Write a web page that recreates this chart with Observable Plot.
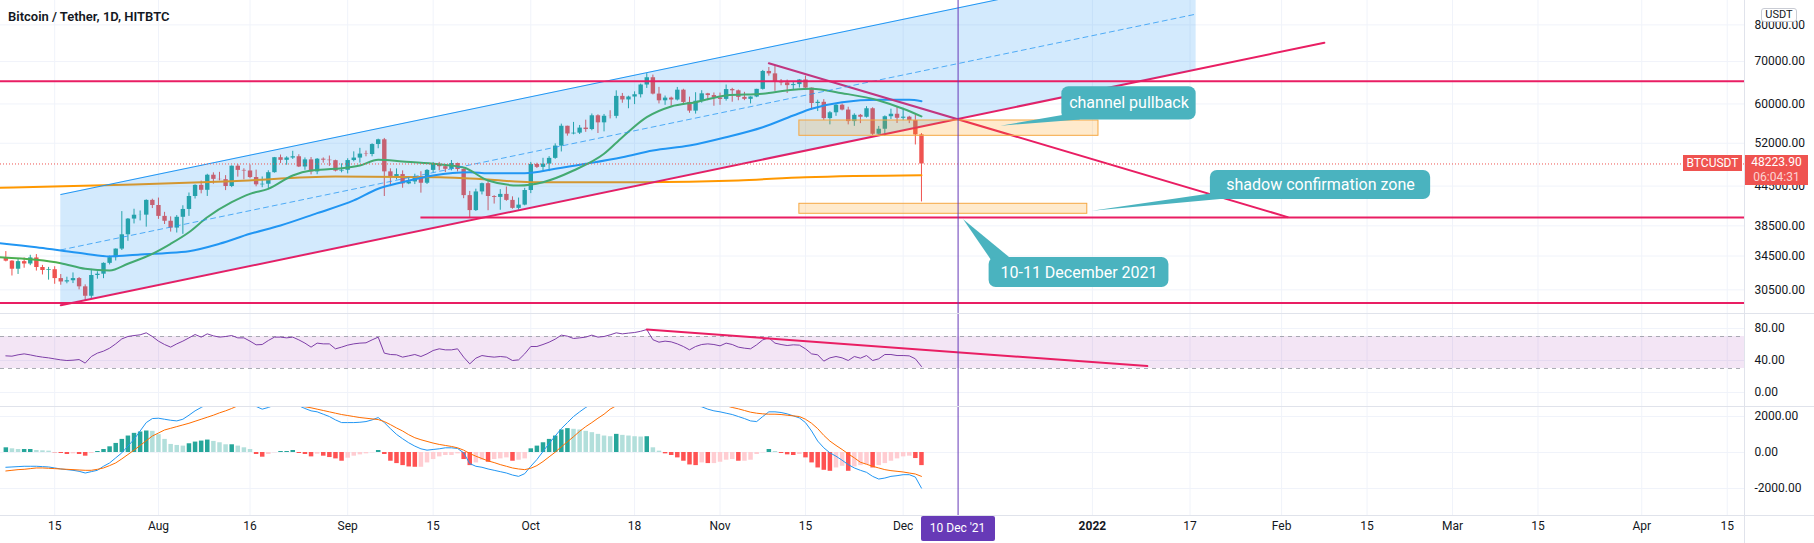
<!DOCTYPE html>
<html>
<head>
<meta charset="utf-8">
<script src="https://cdn.jsdelivr.net/npm/d3@7"></script>
<script src="https://cdn.jsdelivr.net/npm/@observablehq/plot@0.6"></script>
<style>
  html, body { margin:0; padding:0; background:#ffffff; }
  #chart { position:relative; width:1814px; height:543px; overflow:hidden; font-family: Roboto, "Noto Sans", sans-serif; color:#131722; background:#fff; }
  #chart svg { position:absolute; left:0; display:block; background:transparent; }
  .ov { position:absolute; box-sizing:border-box; white-space:nowrap; }
</style>
</head>
<body>
<div id="chart"></div>
<script>
// ---------------- DATA ----------------
const firstDay = "2021-07-07";
const lastDay = "2021-12-04";
const open = [34230,33860,32880,33800,33510,34260,33090,32730,32820,31780,31390,31530,31780,30840,29800,32140,32290,33590,34290,35380,37270,39460,40020,40030,42240,
41460,39850,39150,38190,39720,40870,42840,44610,43820,46290,45600,45550,44430,47830,47110,47010,45900,44700,44800,46720,49340,48870,49280,49510,47700,48950,46850,49070,48900,48810,46990,
47130,48830,49270,49990,49920,51760,52660,46860,46050,46400,44850,45170,46050,44960,47110,48130,47750,47300,48310,47260,42980,40700,43560,44890,42840,42700,43170,42240,41030,41520,
43790,48140,47630,48200,49220,51470,55320,53790,53950,54950,54660,57470,56010,57370,57350,61670,60880,61530,62040,64280,66000,62190,60690,61290,60860,63080,60330,58450,60590,62250,61860,
61320,61000,63220,62940,61450,61010,61530,63270,67530,66940,64880,64780,64140,64380,65470,63560,60100,60360,56880,58100,59720,58680,56270,57570,57160,58960,53730,54720,57270,57790,
56950,57180,56480,53600];
const high = [35060,33910,34100,34260,34590,34680,33340,33100,33180,32250,31940,32440,31900,31060,32860,32580,33650,34490,35400,40550,39540,40900,40640,42320,42420,
42600,40440,39780,39970,41420,43390,44700,45310,46450,46700,46780,46220,47890,48140,47390,48050,47160,46000,47050,49380,49820,49500,50500,49870,49300,49370,49190,49300,49640,48900,48250,
49150,50400,51050,50550,51900,52780,52920,47380,47370,47030,45990,46460,46880,47250,48490,48500,48150,48840,48380,47360,43640,44000,44980,45200,42970,43920,44350,42790,42600,44130,
48500,48360,49230,49530,51890,55750,55330,56100,55480,56560,57840,57680,57750,58530,62930,62330,61720,62700,64490,67000,66640,63730,61750,61500,63710,63290,61500,62500,62960,62360,62440,
62420,64270,63500,63120,62590,61560,63290,67790,68500,69000,65580,65460,64990,65550,66400,63560,60820,60950,58350,59850,60000,59290,57880,57750,59400,59170,55280,57440,58870,59250,
59050,57360,57600,53860];
const low = [33770,32080,32260,33000,33310,32660,32200,31600,31130,31020,31180,31210,30500,29280,29480,31710,31770,33400,33880,35200,36400,38770,39200,38320,41000,
39420,38690,37640,37510,37330,39850,42450,43260,42850,44800,45350,43770,44250,45970,45520,45700,44380,44230,43950,46640,48290,48000,49030,47600,47130,46350,46380,48370,47800,46850,46700,
46510,48600,48380,49500,49500,50970,42840,44410,45510,44150,44730,44740,43370,44750,46700,47040,46750,47030,46850,42500,39600,40570,43090,40680,41680,40750,42100,40900,40750,41410,
43290,47430,47090,46900,49050,50380,53360,53620,53680,54110,54420,53880,54200,56820,56850,60150,58960,59850,61320,63480,62000,60000,59700,59510,60650,59820,58000,57820,60170,60700,59500,
59700,60620,60380,60700,60720,60000,61380,63100,66380,62820,64100,62330,63000,63580,63400,58600,58380,56500,55600,57350,58500,55600,55300,55850,57000,53500,53610,53330,56700,55880,
56450,55850,51680,42000];
const close = [33860,32880,33800,33510,34260,33090,32730,32820,31780,31390,31530,31780,30840,29800,32140,32290,33590,34290,35380,37270,39460,40020,40030,42240,41460,
39850,39150,38190,39720,40870,42840,44610,43820,46290,45600,45550,44430,47830,47110,47010,45900,44700,44800,46720,49340,48870,49280,49510,47700,48950,46850,49070,48900,48810,46990,47130,
48830,49270,49990,49920,51760,52660,46860,46050,46400,44850,45170,46050,44960,47110,48130,47750,47300,48310,47260,42980,40700,43560,44890,42840,42700,43170,42240,41030,41520,43790,
48140,47630,48200,49220,51470,55320,53790,53950,54950,54660,57470,56010,57370,57350,61670,60880,61530,62040,64280,66000,62190,60690,61290,60860,63080,60330,58450,60590,62250,61860,61320,
61000,63220,62940,61450,61010,61530,63270,67530,66940,64880,64780,64140,64380,65470,63560,60100,60360,56880,58100,59720,58680,56270,57570,57160,58960,53730,54720,57270,57790,56950,
57180,56480,53600,48223.9];
const lastPrice = 48223.90;
const countdown = "06:04:31";

// moving averages (date, value)
const ma20Dates = ["2021-07-06","2021-07-12","2021-07-16","2021-07-20","2021-07-24","2021-07-27","2021-07-31","2021-08-03","2021-08-06","2021-08-09","2021-08-13","2021-08-16","2021-08-19","2021-08-23","2021-08-26","2021-08-30","2021-09-03","2021-09-06","2021-09-10","2021-09-15","2021-09-20","2021-09-24","2021-09-29","2021-10-03","2021-10-08","2021-10-13","2021-10-16","2021-10-20","2021-10-24","2021-10-28","2021-11-02","2021-11-08","2021-11-13","2021-11-16","2021-11-21","2021-11-27","2021-12-01","2021-12-04"];
const ma20Values = [34360,34030,33610,32930,32730,33540,34780,36070,37620,39730,41960,43260,44050,46240,47090,47380,47950,48960,48660,48250,47600,45410,44590,45130,47090,50040,53160,57180,59450,60390,61880,62270,63180,63410,62400,60770,58960,57330];
const ma50Dates = ["2021-07-06","2021-07-12","2021-07-16","2021-07-20","2021-07-24","2021-07-29","2021-08-02","2021-08-06","2021-08-11","2021-08-16","2021-08-21","2021-08-27","2021-09-02","2021-09-06","2021-09-10","2021-09-15","2021-09-21","2021-09-24","2021-09-30","2021-10-05","2021-10-10","2021-10-16","2021-10-21","2021-10-27","2021-11-02","2021-11-08","2021-11-13","2021-11-16","2021-11-21","2021-11-27","2021-12-02","2021-12-04"];
const ma50Values = [36150,35630,35200,34780,34440,34690,34860,35110,36070,37400,38550,40320,42230,44060,45130,46240,46800,46630,46630,47380,48250,49420,50640,51570,53160,55130,57530,58950,60390,60920,60920,60610];
const ma200Dates = ["2021-07-06","2021-07-28","2021-08-13","2021-08-30","2021-09-16","2021-09-24","2021-10-01","2021-10-19","2021-11-04","2021-11-15","2021-12-04"];
const ma200Values = [44220,44750,45290,46070,45960,45570,45130,45130,45420,45960,46300];

// RSI (14) daily values, Jul 7 -> Dec 4
const rsi = [45.8,45.4,47.1,48.3,47,45.4,44.2,43.3,42,40.8,40,40.4,41.2,36.7,45,49.2,51.7,55.4,60.8,67,70,71.2,72.1,74.6,70,
64.2,60,56.7,60.8,64.2,68.3,72.5,69.2,73.3,70.8,69.2,70,71.2,68.3,68.3,64.2,59.6,60,65,69.2,69.2,68.3,69.2,65.8,61.7,56.7,61.7,60.8,60.8,54.6,56.7,
59.2,60.8,61.7,62.1,65.8,69.2,49.2,47.5,47.1,44.2,45.8,47.5,45,48.3,52.5,54.6,53.3,53.3,54.6,44.2,35.8,42.9,46.2,45,44.2,45,44.2,40,40.8,48.3,
57.5,57.5,60,62.9,66.7,71.7,70.4,67.5,68.3,69.2,71.7,69.2,70,72.1,74.6,73.3,74.2,75.0,76.5,78.7,66.0,62.9,64.2,63.3,60.8,57.5,53.3,57.5,60,60.8,60,
58.3,61.7,60,56.7,55.4,54.6,59.6,65.8,68.3,61.7,60,58.75,59.6,59.2,54.6,48.3,47.1,39.2,43.3,45,43.3,40,45,42.9,46.2,40,42.1,47.5,47.5,46.2,
46.2,45.8,42.1,32.5];

// MACD (12,26,9): histogram, macd line, signal line
const macdHist = [261,205,168,168,168,112,93,75,-19,-56,-112,-75,-112,-205,-56,56,168,317,504,728,915,1064,1139,1195,1176,
989,728,448,392,355,485,579,635,691,616,541,429,429,355,261,168,-112,-261,-112,-19,56,56,112,-56,-112,-243,-93,-205,-280,-355,-485,
-317,-205,-131,-75,-19,112,-112,-485,-616,-728,-803,-821,-821,-579,-392,-243,-168,-168,-75,-392,-728,-579,-429,-541,-392,-355,-299,-485,-429,-355,
205,355,541,728,915,1251,1326,1288,1251,1176,1102,1008,915,877,1008,952,915,877,859,877,261,75,-75,-168,-299,-485,-691,-728,-579,-616,-616,
-541,-429,-392,-485,-485,-429,-112,-19,168,56,-56,-131,-168,-112,-299,-579,-859,-989,-1045,-859,-765,-1045,-803,-728,-672,-859,-728,-616,-485,-355,
-243,-205,-336,-728];
const macdLine = [-821,-803,-784,-765,-765,-765,-784,-803,-859,-915,-952,-989,-1045,-1139,-1064,-989,-765,-579,-299,-19,355,728,1195,1662,1886,
1904,1848,1792,1755,1848,2072,2315,2502,2688,2850,2950,3000,3000,2950,2850,2700,2558,2408,2502,2632,2750,2800,2750,2595,2446,2315,2259,2128,1998,1811,1662,
1662,1662,1680,1718,1811,1942,1662,1326,1008,765,541,355,205,131,168,205,261,261,224,-19,-616,-765,-821,-915,-989,-1064,-1139,-1251,-1326,-1176,
-765,-392,56,504,915,1326,1662,1998,2259,2502,2700,2900,3050,3200,3350,3450,3500,3550,3600,3550,3300,3100,2950,2850,2800,2700,2650,2595,2540,2408,2315,
2259,2184,2110,1998,1886,1755,1718,1998,2259,2259,2222,2147,2035,1923,1662,1195,635,261,-19,-205,-429,-672,-859,-989,-1102,-1326,-1475,-1419,-1326,-1288,
-1232,-1232,-1363,-1979];
const signalLine = [-1027,-989,-952,-934,-896,-859,-859,-877,-896,-915,-934,-952,-971,-989,-989,-934,-859,-728,-579,-355,-112,131,392,653,915,
1083,1251,1344,1438,1531,1624,1736,1848,1960,2072,2203,2315,2446,2595,2680,2720,2730,2720,2720,2700,2700,2700,2680,2595,2540,2483,2408,2334,2259,2184,2110,
2054,1998,1942,1904,1867,1830,1718,1550,1363,1195,989,821,709,616,523,448,392,336,261,131,-56,-205,-336,-467,-560,-672,-765,-859,-915,-952,
-877,-728,-504,-243,19,317,597,877,1176,1438,1662,1904,2128,2408,2600,2750,2900,3000,3100,3150,3150,3100,3050,3000,2950,2900,2850,2800,2750,2700,2650,
2620,2595,2502,2427,2334,2240,2184,2147,2128,2128,2110,2072,2035,1998,1848,1624,1326,952,635,392,168,-75,-299,-541,-653,-765,-859,-952,-1008,-1045,
-1083,-1139,-1195,-1326];

// axis ticks
const priceTicks = [80000,70000,60000,52000,44500,38500,34500,30500];
const rsiTicks = [80,40,0];
const macdTicks = [2000,0,-2000];
const dateTicks = ["2021-07-15","2021-08-01","2021-08-16","2021-09-01","2021-09-15","2021-10-01","2021-10-18","2021-11-01","2021-11-15","2021-12-01","2022-01-01","2022-01-17","2022-02-01","2022-02-15","2022-03-01","2022-03-15","2022-04-01","2022-04-15"];
const dateLabels = ["15","Aug","16","Sep","15","Oct","18","Nov","15","Dec","2022","17","Feb","15","Mar","15","Apr","15"];

// drawings (date, price)
const channelDates = ["2021-07-16","2022-01-18"];
const channelLower = [28830,67950];
const channelMiddle = [35270,83200];
const channelUpper = [43150,101900];
const supportLineDates = ["2021-07-16","2022-02-08"];
const supportLinePrices = [28830,74950];
const downLineDates = ["2021-11-09","2022-02-02"];
const downLinePrices = [69570,39740];
const levelPrices = [65150,39700,29080];
const levelStarts = ["2021-07-01","2021-09-13","2021-07-01"];
const zoneStarts = ["2021-11-14","2021-11-14"];
const zoneEnds = ["2022-01-02","2021-12-31T04:00Z"];
const zoneTops = [56490,41720];
const zoneBottoms = [53430,40230];
const markerDate = "2021-12-10";
const markerLabel = "10 Dec '21";
const rsiTrendDates = ["2021-10-20","2022-01-10"];
const rsiTrendValues = [78.75,33];
const calloutTexts = ["channel pullback","shadow confirmation zone","10-11 December 2021"];
const calloutStarts = ["2021-12-27","2022-01-20T08:00Z","2021-12-15T02:00Z"];
const calloutEnds = ["2022-01-18","2022-02-25T10:00Z","2022-01-13T13:00Z"];
const calloutTops = [63900,47090,34320];
const calloutBottoms = [56600,42380,30770];
const tail1 = {dates:["2021-12-17","2021-12-30"], low:[55330,56600], high:[55330,58170]};
const tail2 = {dates:["2022-01-01","2022-01-22"], low:[40600,42380], high:[40600,43470]};
const tail3 = {prices:[39370,33700], left:["2021-12-10T22:00Z","2021-12-15T17:00Z"], right:["2021-12-10T22:00Z","2021-12-19T10:00Z"]};

// ---------------- BUILD ----------------
const D = s => new Date(s.length <= 10 ? s + "T00:00Z" : s);
const FONT = "Roboto, 'Noto Sans', sans-serif";
const UP = "#26a69a", DOWN = "#ef5350", RED = "#e91e63";
const GRID = "#f0f3fa";
const xDomain = [D("2021-07-06T03:00Z"), D("2022-04-17T20:00Z")];
const days = d3.utcDay.range(D(firstDay), d3.utcDay.offset(D(lastDay), 1));
const candles = days.map((date, i) => ({date, open: open[i], high: high[i], low: low[i], close: close[i]}));
const xTicks = dateTicks.map((d, i) => ({date: D(d), label: dateLabels[i]}));
const toSeries = (ds, vs) => ds.map((d, i) => ({date: D(d), value: vs[i]}));
const ma20 = toSeries(ma20Dates, ma20Values), ma50 = toSeries(ma50Dates, ma50Values), ma200 = toSeries(ma200Dates, ma200Values);
const channel = channelDates.map((d, i) => ({date: D(d), lo: channelLower[i], mid: channelMiddle[i], hi: channelUpper[i]}));
const support = toSeries(supportLineDates, supportLinePrices);
const downLine = toSeries(downLineDates, downLinePrices);
const levels = levelPrices.map((p, i) => ({price: p, start: D(levelStarts[i]), end: xDomain[1]}));
const zones = zoneStarts.map((d, i) => ({x1: D(d), x2: D(zoneEnds[i]), top: zoneTops[i], bottom: zoneBottoms[i]}));
const callouts = calloutTexts.map((t, i) => ({text: t, x1: D(calloutStarts[i]), x2: D(calloutEnds[i]), top: calloutTops[i], bottom: calloutBottoms[i]}));
const t1 = tail1.dates.map((d, i) => ({date: D(d), lo: tail1.low[i], hi: tail1.high[i]}));
const t2 = tail2.dates.map((d, i) => ({date: D(d), lo: tail2.low[i], hi: tail2.high[i]}));
const t3 = tail3.prices.map((p, i) => ({price: p, l: D(tail3.left[i]), r: D(tail3.right[i])}));
const marker = [D(markerDate)];
const CALLOUT = "#4ab3bf";
const candleColor = d => d.close >= d.open ? UP : DOWN;

const common = {width: 1814, marginLeft: 0, marginRight: 70, marginTop: 0,
  x: {type: "utc", domain: xDomain, axis: null},
  color: {type: "identity"},
  style: {fontFamily: FONT, fontSize: "12px", color: "#131722", background: "transparent", overflow: "visible"}};

const main = Plot.plot({
  ...common, height: 313, marginBottom: 0,
  y: {type: "log", domain: [27987, 87423], axis: null},
  marks: [
    Plot.ruleX(xTicks, {x: "date", stroke: GRID}),
    Plot.ruleY(priceTicks, {stroke: GRID}),
    Plot.ruleX(candles, {x: "date", y1: "low", y2: "high", stroke: candleColor, strokeWidth: 1, clip: true}),
    Plot.ruleX(candles, {x: "date", y1: "open", y2: "close", stroke: candleColor, strokeWidth: 4.4, clip: true}),
    Plot.line(ma200, {x: "date", y: "value", stroke: "#ff9800", strokeWidth: 2, curve: "monotone-x", clip: true}),
    Plot.line(ma50, {x: "date", y: "value", stroke: "#2196f3", strokeWidth: 2, curve: "monotone-x", clip: true}),
    Plot.line(ma20, {x: "date", y: "value", stroke: "#4caf50", strokeWidth: 2, curve: "monotone-x", clip: true}),
    Plot.line(support, {x: "date", y: "value", stroke: RED, strokeWidth: 2, clip: true}),
    Plot.line(downLine, {x: "date", y: "value", stroke: RED, strokeWidth: 2, clip: true}),
    Plot.areaY(channel, {x: "date", y1: "lo", y2: "hi", fill: "#2196f3", fillOpacity: 0.2, clip: true}),
    Plot.line(channel, {x: "date", y: "hi", stroke: "#2196f3", strokeWidth: 1, clip: true}),
    Plot.line(channel, {x: "date", y: "mid", stroke: "#2196f3", strokeOpacity: 0.75, strokeWidth: 1, strokeDasharray: "5,4", clip: true}),
    Plot.rect(zones, {x1: "x1", x2: "x2", y1: "bottom", y2: "top", fill: "#ff9800", fillOpacity: 0.2, stroke: "#f5a742", strokeWidth: 1, clip: true}),
    Plot.ruleY(levels, {y: "price", x1: "start", x2: "end", stroke: RED, strokeWidth: 2, clip: true}),
    Plot.ruleY([lastPrice], {stroke: "#ef5350", strokeWidth: 1, strokeDasharray: "1,2", clip: true}),
    Plot.ruleX(marker, {stroke: "#673ab7", strokeWidth: 1}),
    Plot.areaY(t1, {x: "date", y1: "lo", y2: "hi", fill: CALLOUT, clip: true}),
    Plot.areaY(t2, {x: "date", y1: "lo", y2: "hi", fill: CALLOUT, clip: true}),
    Plot.areaX(t3, {y: "price", x1: "l", x2: "r", fill: CALLOUT, clip: true}),
    Plot.rect(callouts, {x1: "x1", x2: "x2", y1: "bottom", y2: "top", fill: CALLOUT, rx: 7, ry: 7}),
    Plot.text(callouts, {x: d => new Date((+d.x1 + +d.x2) / 2), y: d => Math.sqrt(d.top * d.bottom), text: "text", fill: "white", fontSize: 16}),
    Plot.axisY(priceTicks, {anchor: "right", tickSize: 0, tickPadding: 10, tickFormat: d => d.toFixed(2), label: null, fontSize: 12, fill: "#131722"})
  ]
});

const rsiData = days.map((date, i) => ({date, value: rsi[i]}));
const rsiPlot = Plot.plot({
  ...common, height: 93, marginBottom: 0,
  y: {domain: [-17.5, 98.75], axis: null},
  marks: [
    Plot.ruleX(xTicks, {x: "date", stroke: GRID}),
    Plot.ruleY(rsiTicks, {stroke: GRID}),
    Plot.rect([{x1: xDomain[0], x2: xDomain[1], y1: 30, y2: 70}], {x1: "x1", x2: "x2", y1: "y1", y2: "y2", fill: "#9c27b0", fillOpacity: 0.12}),
    Plot.ruleY([70, 30], {stroke: "#9598a1", strokeOpacity: 0.8, strokeDasharray: "4,4"}),
    Plot.line(rsiData, {x: "date", y: "value", stroke: "#7e3fa8", strokeWidth: 1}),
    Plot.line(toSeries(rsiTrendDates, rsiTrendValues), {x: "date", y: "value", stroke: RED, strokeWidth: 2, clip: true}),
    Plot.ruleX(marker, {stroke: "#673ab7", strokeWidth: 1}),
    Plot.axisY(rsiTicks, {anchor: "right", tickSize: 0, tickPadding: 10, tickFormat: d => d.toFixed(2), label: null, fontSize: 12, fill: "#131722"})
  ]
});

const macdData = days.map((date, i) => {
  const v = macdHist[i], p = i ? macdHist[i - 1] : v;
  const c = v >= 0 ? (v >= p ? "#26a69a" : "#b2dfdb") : (v < p ? "#ff5252" : "#ffcdd2");
  return {date, hist: v, macd: macdLine[i], signal: signalLine[i], color: c};
});
const macdPlot = Plot.plot({
  ...common, height: 137, marginBottom: 28,
  y: {domain: [-3500, 2555.6], axis: null},
  marks: [
    Plot.ruleX(xTicks, {x: "date", stroke: GRID}),
    Plot.ruleY(macdTicks, {stroke: GRID}),
    Plot.ruleX(macdData, {x: "date", y1: 0, y2: "hist", stroke: "color", strokeWidth: 4.5}),
    Plot.line(macdData, {x: "date", y: "macd", stroke: "#2196f3", strokeWidth: 1, clip: true}),
    Plot.line(macdData, {x: "date", y: "signal", stroke: "#ff6d00", strokeWidth: 1, clip: true}),
    Plot.ruleX(marker, {stroke: "#673ab7", strokeWidth: 1}),
    Plot.axisY(macdTicks, {anchor: "right", tickSize: 0, tickPadding: 10, tickFormat: d => d.toFixed(2), label: null, fontSize: 12, fill: "#131722"}),
    Plot.text(xTicks.filter(d => d.label !== "2022"), {x: "date", text: "label", frameAnchor: "bottom", dy: 14, fontSize: 12, fill: "#131722"}),
    Plot.text(xTicks.filter(d => d.label === "2022"), {x: "date", text: "label", frameAnchor: "bottom", dy: 14, fontSize: 12, fontWeight: "bold", fill: "#131722"})
  ]
});

const wrap = document.getElementById("chart");
function place(svg, top) { svg.style.top = top + "px"; wrap.appendChild(svg); }
place(main, 0); place(rsiPlot, 313); place(macdPlot, 406);

function div(css, html) { const e = document.createElement("div"); e.className = "ov"; e.style.cssText = css; if (html != null) e.innerHTML = html; wrap.appendChild(e); return e; }
// pane separators and price-axis border
div("left:0;top:313px;width:1814px;height:1px;background:#e0e3eb;");
div("left:0;top:406px;width:1814px;height:1px;background:#e0e3eb;");
div("left:0;top:515px;width:1814px;height:1px;background:#e0e3eb;");
div("left:1744px;top:0;width:1px;height:543px;background:#e0e3eb;");
// title
div("left:8px;top:8px;font-size:13px;font-weight:600;line-height:18px;color:#131722;", "Bitcoin / Tether, 1D, HITBTC");
// currency badge
div("left:1761px;top:8px;width:36px;height:14px;border:1px solid #c9ccd4;border-radius:3px;background:#fff;font-size:11px;line-height:12px;text-align:center;color:#131722;", "USDT");
// last price labels
const yLast = main.scale("y").apply(lastPrice);
div(`left:1683px;top:${yLast - 8}px;width:59px;height:16px;background:#ef5350;color:#fff;font-size:12px;line-height:16px;text-align:center;`, "BTCUSDT");
div(`left:1745px;top:${yLast - 8}px;width:63px;height:30px;background:#ef5350;color:#fff;font-size:12px;line-height:15px;text-align:center;`,
  `${lastPrice.toFixed(2)}<br><span style="color:rgba(255,255,255,0.75)">${countdown}</span>`);
// marker date label on the time axis
const xMark = macdPlot.scale("x").apply(marker[0]);
div(`left:${xMark - 37}px;top:516px;width:74px;height:25px;background:#673ab7;color:#fff;font-size:12px;line-height:25px;text-align:center;border-radius:2px;`, markerLabel);
</script>
</body>
</html>
